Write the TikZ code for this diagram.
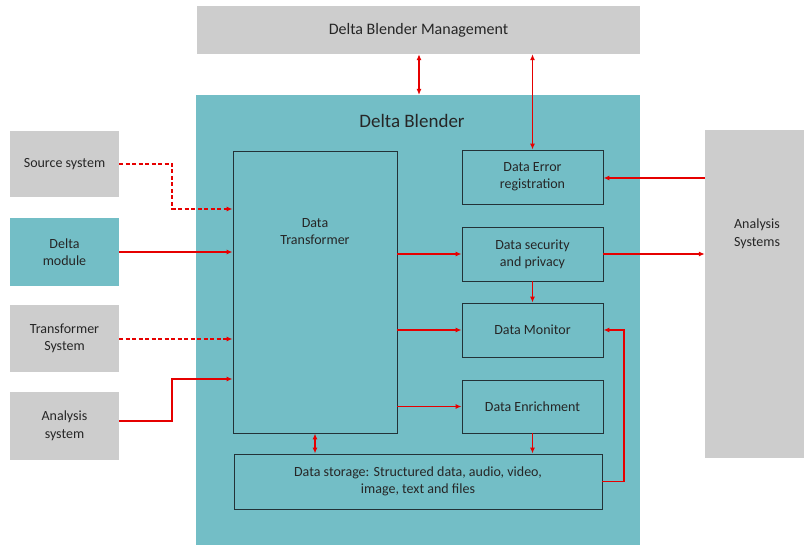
\documentclass[tikz,border=0pt]{standalone}
\usepackage{fontspec}
\setmainfont{Carlito}
\usetikzlibrary{arrows.meta}
\definecolor{teal1}{RGB}{115,190,198}
\definecolor{grey1}{RGB}{205,205,205}
\definecolor{red1}{RGB}{230,0,0}
\definecolor{edge1}{RGB}{35,50,55}
\definecolor{txt1}{RGB}{38,38,38}
\tikzset{
  ext/.style={draw=none, fill=grey1, align=center, font=\fontsize{14}{17.5}\selectfont, text=txt1, inner sep=0pt},
  inbox/.style={draw=edge1, line width=0.9pt, fill=teal1, align=center, font=\fontsize{14}{17}\selectfont, text=txt1, inner sep=0pt},
  conn/.style={draw=red1, line width=1.6pt, -{Latex[length=6pt,width=5pt]}},
  dconn/.style={conn, dash pattern=on 4pt off 2.5pt},
  bconn/.style={draw=red1, line width=1.6pt, {Latex[length=6pt,width=5pt]}-{Latex[length=6pt,width=5pt]}},
}
\begin{document}
\begin{tikzpicture}[x=1pt,y=-1pt]
\useasboundingbox (0,0) rectangle (804,545);
% frames
\node[ext, minimum width=443, minimum height=48, font=\fontsize{16}{17}\selectfont] (mgmt) at (418.5,30) {Delta Blender Management};
\node[fill=teal1, minimum width=444, minimum height=451, inner sep=0pt, anchor=north west] (blender) at (196,95) {};
\node[font=\fontsize{19}{22}\selectfont, text=txt1] (title) at (412,121) {Delta Blender};
% left systems
\node[ext, minimum width=109, minimum height=66] (src) at (64.5,164) {Source system};
\node[ext, fill=teal1, minimum width=109, minimum height=68] (delta) at (64.5,252) {Delta\\module};
\node[ext, minimum width=109, minimum height=67] (trs) at (64.5,338.5) {Transformer\\System};
\node[ext, minimum width=109, minimum height=68] (ana) at (64.5,426) {Analysis\\system};
% right
\node[ext, minimum width=99, minimum height=328] (anas) at (754.5,294) {};
\node[font=\fontsize{14}{17.5}\selectfont, text=txt1, align=center] (anastxt) at (757,234) {Analysis\\Systems};
% inner boxes
\node[inbox, minimum width=164, minimum height=282,
  label={[anchor=center, yshift=-81pt, align=center, font=\fontsize{14}{17}\selectfont, text=txt1]north:Data\\Transformer}] (dt) at (315,292) {};
\node[inbox, minimum width=141, minimum height=54] (err) at (532.5,177) {Data Error\\registration};
\node[inbox, minimum width=141, minimum height=54] (sec) at (532.5,254) {Data security\\and privacy};
\node[inbox, minimum width=141, minimum height=54] (mon) at (532.5,330) {Data Monitor};
\node[inbox, minimum width=141, minimum height=53] (enr) at (532.5,406.5) {Data Enrichment};
\node[inbox, minimum width=368, minimum height=55] (sto) at (418,481.5) {Data storage: Structured data, audio, video,\\image, text and files};
% connectors
\draw[bconn] (mgmt.south -| 419,0) -- (blender.north -| 419,0);
\draw[bconn] (mgmt.south -| err.north) -- (err.north);
\draw[dconn] (src.east) -- ++(53,0) |- (dt.west |- 0,209);
\draw[conn] (delta.east) -- (dt.west |- delta.east);
\draw[dconn] (trs.east |- 0,339) -- (dt.west |- 0,339);
\draw[conn] (ana.east |- 0,421) -- ++(53,0) |- (dt.west |- 0,379);
\draw[conn] (anas.west |- 0,178) -- (err.east |- 0,178);
\draw[conn] (sec.east) -- (anas.west |- sec.east);
\draw[conn] (dt.east |- sec.west) -- (sec.west);
\draw[conn] (dt.east |- mon.west) -- (mon.west);
\draw[conn] (dt.east |- enr.west) -- (enr.west);
\draw[conn] (sec.south) -- (mon.north);
\draw[conn] (enr.south) -- (enr.south |- sto.north);
\draw[bconn] (dt.south) -- (dt.south |- sto.north);
\draw[conn] (sto.east) -- ++(21.5,0) |- (mon.east);
\end{tikzpicture}
\end{document}
